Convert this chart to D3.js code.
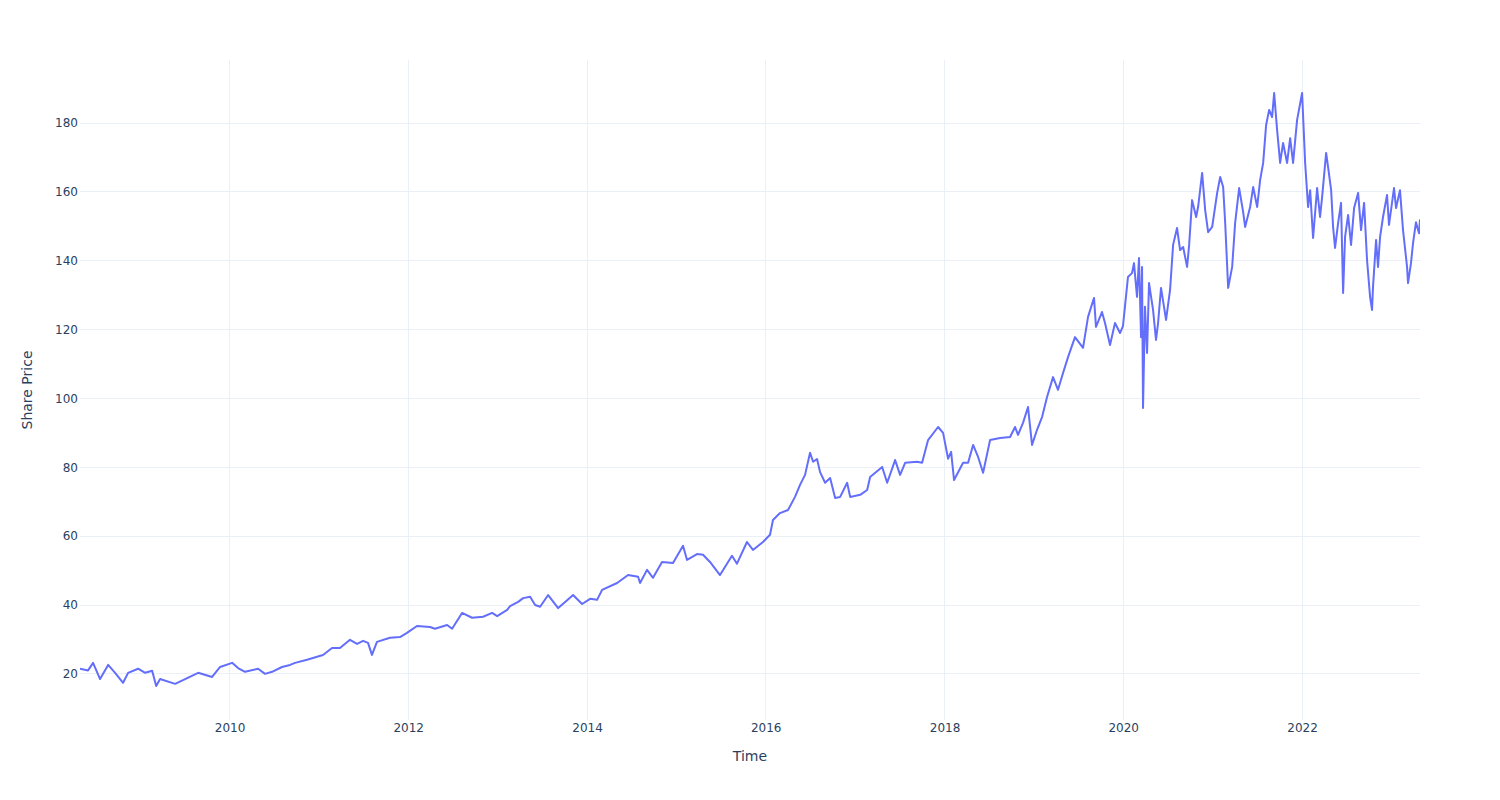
<!DOCTYPE html>
<html>
<head>
<meta charset="utf-8">
<script src="https://cdn.jsdelivr.net/npm/d3@7"></script>
<style>
  html, body { margin: 0; padding: 0; background: #fff; }
  svg text { font-family: "DejaVu Sans", "Open Sans", Verdana, sans-serif; fill: #2a3f5f; }
</style>
</head>
<body>
<svg id="chart" width="1500" height="800"></svg>
<script>
// Time (decimal years) and share price
const years = [
  2008.327, 2008.417, 2008.473, 2008.551, 2008.641, 2008.719, 2008.808, 2008.864, 2008.976, 2009.055,
  2009.133, 2009.178, 2009.222, 2009.390, 2009.502, 2009.648, 2009.804, 2009.894, 2010.028, 2010.095,
  2010.173, 2010.319, 2010.397, 2010.476, 2010.587, 2010.677, 2010.733, 2010.867, 2011.046, 2011.147,
  2011.236, 2011.348, 2011.427, 2011.494, 2011.550, 2011.594, 2011.650, 2011.796, 2011.908, 2011.986,
  2012.098, 2012.243, 2012.299, 2012.434, 2012.490, 2012.601, 2012.713, 2012.836, 2012.937, 2012.993,
  2013.105, 2013.138, 2013.228, 2013.284, 2013.362, 2013.418, 2013.474, 2013.564, 2013.676, 2013.754,
  2013.843, 2013.944, 2014.034, 2014.112, 2014.168, 2014.336, 2014.459, 2014.571, 2014.593, 2014.671,
  2014.738, 2014.839, 2014.962, 2015.074, 2015.119, 2015.231, 2015.298, 2015.376, 2015.488, 2015.622,
  2015.678, 2015.790, 2015.857, 2015.969, 2016.048, 2016.081, 2016.159, 2016.249, 2016.327, 2016.383,
  2016.439, 2016.495, 2016.529, 2016.573, 2016.607, 2016.663, 2016.719, 2016.775, 2016.831, 2016.909,
  2016.943, 2017.055, 2017.133, 2017.166, 2017.301, 2017.357, 2017.446, 2017.502, 2017.558, 2017.692,
  2017.748, 2017.815, 2017.927, 2017.983, 2018.039, 2018.073, 2018.106, 2018.207, 2018.263, 2018.319,
  2018.375, 2018.431, 2018.509, 2018.621, 2018.733, 2018.789, 2018.822, 2018.878, 2018.934, 2018.979,
  2019.035, 2019.091, 2019.147, 2019.214, 2019.270, 2019.326, 2019.382, 2019.460, 2019.550, 2019.606,
  2019.673, 2019.695, 2019.762, 2019.796, 2019.852, 2019.908, 2019.964, 2019.997, 2020.053, 2020.098,
  2020.120, 2020.154, 2020.176, 2020.199, 2020.210, 2020.221, 2020.243, 2020.266, 2020.288, 2020.333,
  2020.366, 2020.389, 2020.422, 2020.478, 2020.523, 2020.557, 2020.601, 2020.635, 2020.669, 2020.713,
  2020.736, 2020.769, 2020.814, 2020.836, 2020.881, 2020.915, 2020.948, 2020.993, 2021.049, 2021.083,
  2021.116, 2021.139, 2021.172, 2021.217, 2021.250, 2021.295, 2021.340, 2021.362, 2021.418, 2021.452,
  2021.497, 2021.530, 2021.564, 2021.597, 2021.631, 2021.664, 2021.687, 2021.720, 2021.754, 2021.787,
  2021.832, 2021.866, 2021.899, 2021.944, 2022.000, 2022.034, 2022.067, 2022.090, 2022.123, 2022.168,
  2022.201, 2022.224, 2022.269, 2022.291, 2022.325, 2022.347, 2022.369, 2022.403, 2022.436, 2022.459,
  2022.481, 2022.515, 2022.548, 2022.582, 2022.627, 2022.660, 2022.694, 2022.727, 2022.761, 2022.783,
  2022.794, 2022.828, 2022.850, 2022.873, 2022.906, 2022.951, 2022.973, 2023.029, 2023.052, 2023.096,
  2023.130, 2023.175, 2023.186, 2023.219, 2023.242, 2023.275, 2023.309, 2023.320
];
const prices = [
  21.5, 21.0, 23.2, 18.5, 22.6, 20.3, 17.4, 20.3, 21.5, 20.3,
  20.9, 16.5, 18.5, 17.1, 18.5, 20.3, 19.1, 22.0, 23.2, 21.7,
  20.6, 21.5, 20.0, 20.6, 22.0, 22.6, 23.2, 24.1, 25.5, 27.5,
  27.5, 29.9, 28.7, 29.6, 29.0, 25.5, 29.3, 30.5, 30.7, 31.9,
  33.9, 33.6, 33.1, 34.2, 33.1, 37.7, 36.3, 36.6, 37.7, 36.8,
  38.6, 39.7, 40.9, 42.0, 42.4, 40.0, 39.5, 42.9, 39.1, 40.9,
  42.9, 40.3, 41.8, 41.5, 44.4, 46.4, 48.7, 48.2, 46.4, 50.2,
  47.9, 52.5, 52.2, 57.2, 53.1, 54.8, 54.6, 52.5, 48.7, 54.3,
  52.0, 58.3, 56.0, 58.3, 60.4, 64.7, 66.7, 67.6, 71.4, 74.9,
  77.8, 84.2, 81.6, 82.4, 78.6, 75.5, 76.9, 71.1, 71.4, 75.5,
  71.4, 72.0, 73.4, 77.2, 80.1, 75.5, 82.1, 77.8, 81.3, 81.6,
  81.3, 87.9, 91.7, 90.0, 82.5, 84.5, 76.3, 81.3, 81.3, 86.5,
  83.0, 78.4, 87.9, 88.5, 88.8, 91.7, 89.4, 92.9, 97.5, 86.5,
  90.9, 94.6, 100.4, 106.2, 102.5, 107.4, 112.0, 117.8, 114.7, 123.7,
  129.2, 120.8, 125.1, 121.9, 115.5, 121.9, 119.0, 121.0, 135.3, 136.4,
  139.3, 129.5, 140.8, 117.8, 138.2, 97.2, 126.6, 113.2, 133.5, 125.7,
  117.0, 121.9, 132.1, 122.8, 131.5, 144.6, 149.5, 143.1, 144.0, 138.2,
  144.6, 157.6, 152.7, 155.6, 165.5, 154.7, 148.3, 149.8, 159.7, 164.3,
  161.4, 150.9, 132.1, 138.2, 150.9, 161.1, 154.1, 149.8, 155.6, 161.4,
  155.6, 163.4, 168.4, 179.4, 183.8, 181.7, 188.7, 178.0, 168.4, 174.2,
  168.4, 175.6, 168.4, 180.9, 188.7, 168.4, 155.6, 160.5, 146.6, 161.1,
  152.7, 158.5, 171.3, 167.2, 160.5, 149.8, 143.7, 150.9, 156.8, 130.6,
  146.9, 153.3, 144.6, 155.3, 159.7, 148.9, 156.8, 140.2, 129.5, 125.7,
  132.4, 146.0, 138.2, 146.9, 152.7, 159.1, 150.4, 161.1, 155.3, 160.5,
  148.9, 138.2, 133.5, 139.3, 145.1, 151.2, 148.0, 152.0
];
const yTickValues = [20, 40, 60, 80, 100, 120, 140, 160, 180];
const xTickYears = [2010, 2012, 2014, 2016, 2018, 2020, 2022];
const yRange = [6.6, 198.3];
const xTitle = "Time";
const yTitle = "Share Price";

function yearToDate(y) {
  const yr = Math.floor(y);
  const start = Date.UTC(yr, 0, 1), end = Date.UTC(yr + 1, 0, 1);
  return new Date(start + (y - yr) * (end - start));
}

const data = years.map((y, i) => ({ date: yearToDate(y), value: prices[i] }));

const W = 1500, H = 800;
const margin = { left: 80, right: 80, top: 60, bottom: 80 };
const pw = W - margin.left - margin.right, ph = H - margin.top - margin.bottom;

const svg = d3.select("#chart");
const g = svg.append("g").attr("transform", `translate(${margin.left},${margin.top})`);

const x = d3.scaleUtc().domain(d3.extent(data, d => d.date)).range([0, pw]);
const y = d3.scaleLinear().domain(yRange).range([ph, 0]);

const xTicks = xTickYears.map(v => new Date(Date.UTC(v, 0, 1)));

// grid
g.append("g").selectAll("line").data(xTicks).join("line")
  .attr("x1", d => x(d)).attr("x2", d => x(d)).attr("y1", 0).attr("y2", ph)
  .attr("stroke", "#ebf0f8").attr("stroke-width", 1).attr("shape-rendering", "crispEdges");
g.append("g").selectAll("line").data(yTickValues).join("line")
  .attr("x1", 0).attr("x2", pw).attr("y1", d => y(d)).attr("y2", d => y(d))
  .attr("stroke", "#ebf0f8").attr("stroke-width", 1).attr("shape-rendering", "crispEdges");

// axes (labels only, plotly style)
const xAxis = d3.axisBottom(x).tickValues(xTicks).tickFormat(d3.utcFormat("%Y")).tickSize(0).tickPadding(3);
const xg = g.append("g").attr("transform", `translate(0,${ph})`).call(xAxis);
xg.select(".domain").remove();
xg.selectAll("text").attr("font-size", 12).attr("fill", "#2a3f5f")
  .style("font-family", '"DejaVu Sans", sans-serif');

const yAxis = d3.axisLeft(y).tickValues(yTickValues).tickSize(0).tickPadding(2);
const yg = g.append("g").call(yAxis);
yg.select(".domain").remove();
yg.selectAll("text").attr("font-size", 12).attr("fill", "#2a3f5f")
  .style("font-family", '"DejaVu Sans", sans-serif');

// line
g.append("defs").append("clipPath").attr("id", "clip")
  .append("rect").attr("x", 0).attr("y", 0).attr("width", pw).attr("height", ph);
const line = d3.line().x(d => x(d.date)).y(d => y(d.value));
g.append("path").datum(data)
  .attr("clip-path", "url(#clip)")
  .attr("fill", "none").attr("stroke", "#636efa").attr("stroke-width", 2)
  .attr("stroke-linejoin", "round")
  .attr("d", line);

// titles
svg.append("text").attr("x", margin.left + pw / 2).attr("y", 761)
  .attr("text-anchor", "middle").attr("font-size", 14).text(xTitle);
svg.append("text").attr("transform", `translate(32,${margin.top + ph / 2}) rotate(-90)`)
  .attr("text-anchor", "middle").attr("font-size", 14).text(yTitle);
</script>
</body>
</html>
